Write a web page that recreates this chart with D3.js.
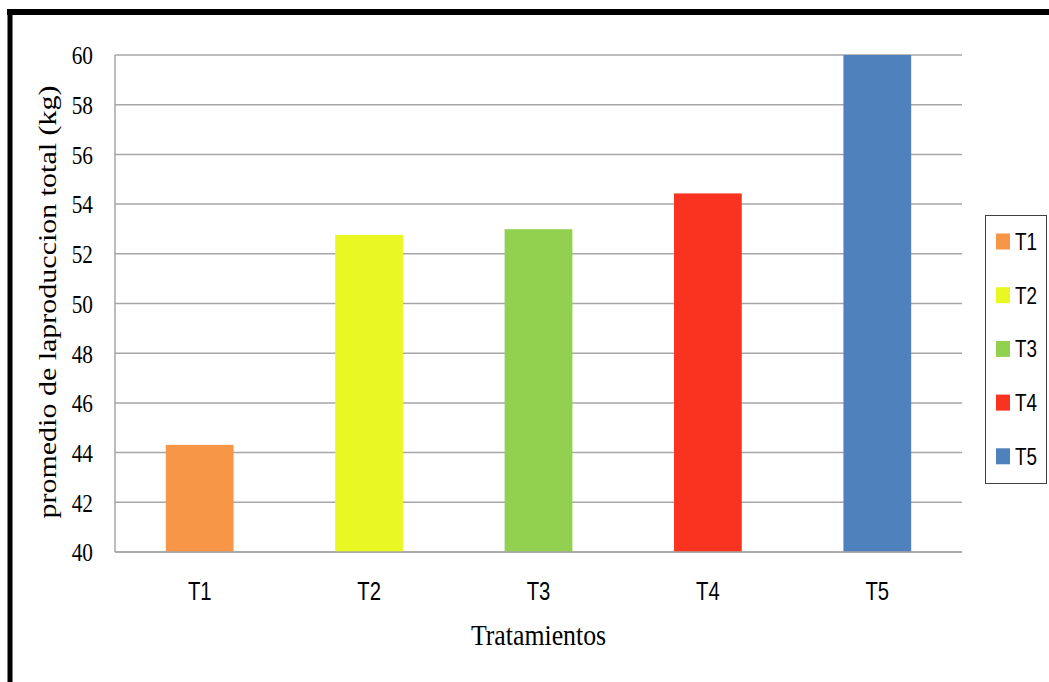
<!DOCTYPE html>
<html>
<head>
<meta charset="utf-8">
<script src="https://cdn.jsdelivr.net/npm/d3@7"></script>
<style>
  html, body { margin: 0; padding: 0; background: #fff; }
  svg { display: block; }
</style>
</head>
<body>
<svg id="chart" width="1049" height="682"></svg>
<script>
// Average total production per treatment (kg)
const categories = ["T1", "T2", "T3", "T4", "T5"];
const values = [44.31, 52.76, 52.99, 54.43, 60.0];
const colors = ["#f79646", "#e9f823", "#92d050", "#fa3320", "#4f81bd"];
const yTicks = [40, 42, 44, 46, 48, 50, 52, 54, 56, 58, 60];

const svg = d3.select("#chart");
const W = 1049, H = 682;
const plot = { left: 115, top: 55, right: 962, bottom: 552 };

// Outer frame (top and left edges)
svg.append("line").attr("x1", 7).attr("x2", W).attr("y1", 12).attr("y2", 12)
  .attr("stroke", "#000").attr("stroke-width", 6);
svg.append("line").attr("x1", 10).attr("x2", 10).attr("y1", 9).attr("y2", H)
  .attr("stroke", "#000").attr("stroke-width", 5);

const x = d3.scaleBand().domain(categories)
  .range([plot.left, plot.right]).paddingInner(0.6).paddingOuter(0.3);
const y = d3.scaleLinear().domain([40, 60]).range([plot.bottom, plot.top]);

// Horizontal gridlines
svg.append("g").selectAll("line").data(yTicks).join("line")
  .attr("x1", plot.left).attr("x2", plot.right)
  .attr("y1", d => y(d)).attr("y2", d => y(d))
  .attr("stroke", "#a6a6a6").attr("stroke-width", 1.5);

// Bars
svg.append("g").selectAll("rect").data(categories).join("rect")
  .attr("x", d => x(d))
  .attr("width", x.bandwidth())
  .attr("y", (d, i) => y(values[i]))
  .attr("height", (d, i) => y(40) - y(values[i]))
  .attr("fill", (d, i) => colors[i]);

// Axis lines
svg.append("line").attr("x1", plot.left).attr("x2", plot.left)
  .attr("y1", plot.top).attr("y2", plot.bottom)
  .attr("stroke", "#a6a6a6").attr("stroke-width", 1.5);
svg.append("line").attr("x1", plot.left).attr("x2", plot.right)
  .attr("y1", plot.bottom).attr("y2", plot.bottom)
  .attr("stroke", "#a6a6a6").attr("stroke-width", 1.5);

// Y tick labels
const yAxis = d3.axisLeft(y).tickValues(yTicks).tickSize(0).tickPadding(0);
const gy = svg.append("g").attr("transform", `translate(${plot.left},0)`).call(yAxis);
gy.select(".domain").remove();
gy.selectAll("text")
  .attr("font-family", "'Liberation Serif', 'Times New Roman', serif")
  .attr("font-size", 26).attr("fill", "#000")
  .attr("x", 0).attr("dy", "0.34em")
  .attr("transform", d => `translate(-22,${y(d)}) scale(0.82,1) translate(0,${-y(d)})`);

// X tick labels
const xAxis = d3.axisBottom(x).tickSize(0).tickPadding(0);
const gx = svg.append("g").attr("transform", `translate(0,${plot.bottom})`).call(xAxis);
gx.select(".domain").remove();
gx.selectAll(".tick text")
  .attr("font-family", "'Liberation Sans', Arial, sans-serif")
  .attr("font-size", 26).attr("fill", "#000")
  .attr("y", 0).attr("dy", 0)
  .attr("transform", "translate(0,48) scale(0.78,1)");

// Axis titles
svg.append("text")
  .attr("transform", `translate(${(plot.left + plot.right) / 2},645) scale(0.86,1)`)
  .attr("text-anchor", "middle")
  .attr("font-family", "'Liberation Serif', 'Times New Roman', serif")
  .attr("font-size", 30).attr("fill", "#000")
  .text("Tratamientos");

svg.append("text")
  .attr("transform", "translate(56,302) scale(0.86,1) rotate(-90)")
  .attr("text-anchor", "middle")
  .attr("font-family", "'Liberation Serif', 'Times New Roman', serif")
  .attr("font-size", 30).attr("fill", "#000")
  .text("promedio de laproduccion total (kg)");

// Legend
const legend = svg.append("g");
legend.append("rect")
  .attr("x", 985.5).attr("y", 215.5).attr("width", 61).attr("height", 268)
  .attr("fill", "#fff").attr("stroke", "#404040").attr("stroke-width", 1);
const entries = legend.selectAll("g.entry").data(categories).join("g")
  .attr("class", "entry")
  .attr("transform", (d, i) => `translate(996,${241.5 + i * 53.7})`);
entries.append("rect")
  .attr("x", 0).attr("y", -8).attr("width", 14).attr("height", 16)
  .attr("fill", (d, i) => colors[i]);
entries.append("text")
  .attr("transform", "translate(19,8.5) scale(0.82,1)")
  .attr("font-family", "'Liberation Sans', Arial, sans-serif")
  .attr("font-size", 23).attr("fill", "#000")
  .text(d => d);
</script>
</body>
</html>
